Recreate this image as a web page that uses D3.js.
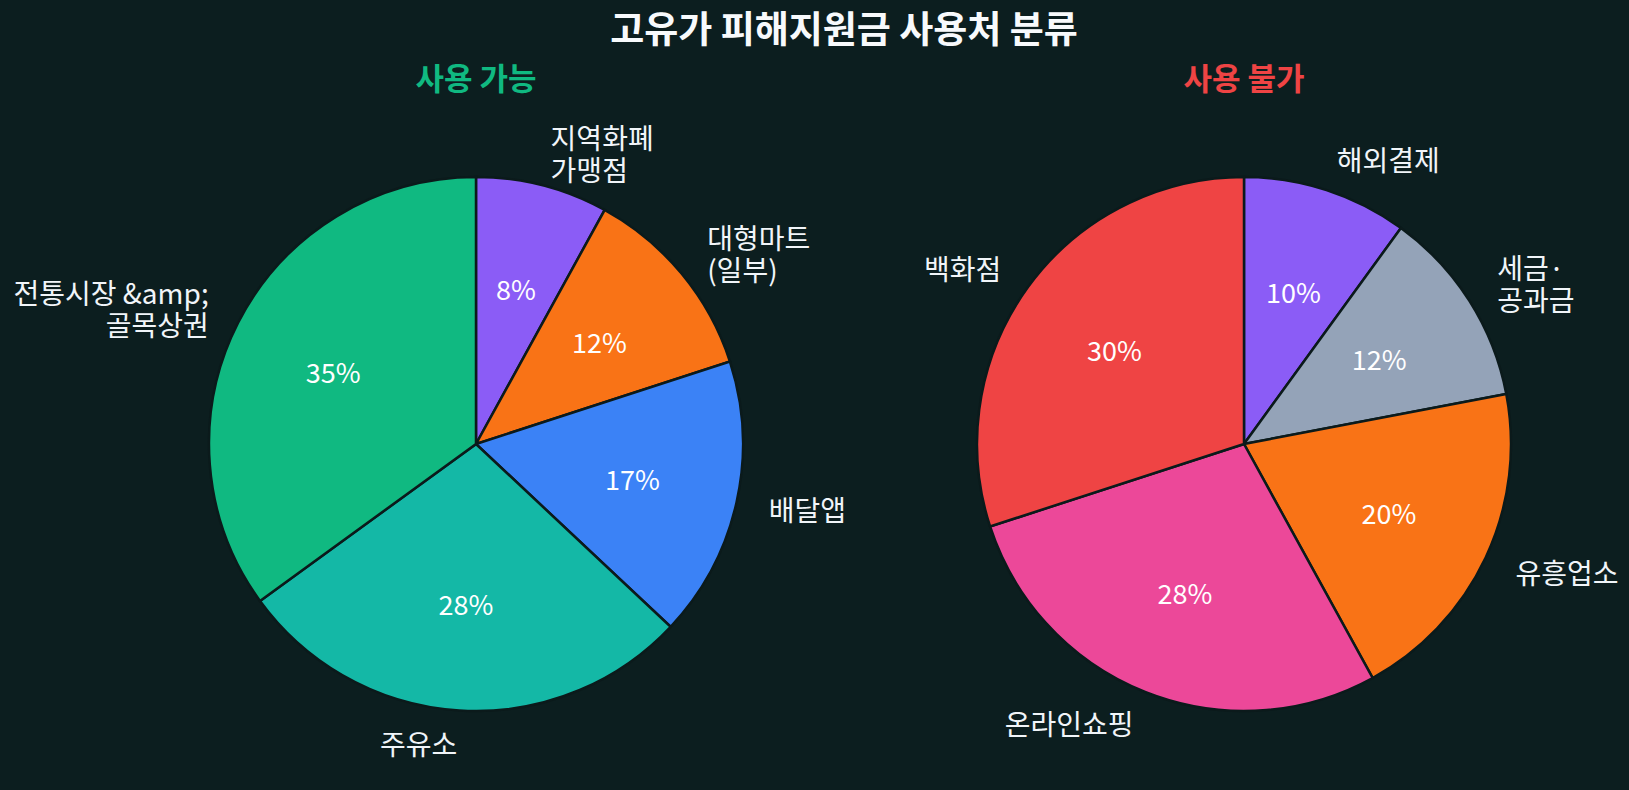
<!DOCTYPE html>
<html>
<head>
<meta charset="utf-8">
<script src="https://cdn.jsdelivr.net/npm/d3@7"></script>
<style>
  html, body { margin: 0; padding: 0; background: #0c1e1f; }
  svg { display: block; font-family: "Noto Sans CJK KR", "Noto Sans", sans-serif; }
</style>
</head>
<body>
<svg id="chart" width="1629" height="790"></svg>
<script>
var chartTitle = "고유가 피해지원금 사용처 분류";

var okTitle = "사용 가능";
var okCats = ["지역화폐\n가맹점", "대형마트\n(일부)", "배달앱", "주유소", "전통시장 &amp;\n골목상권"];
var okValues = [8, 12, 17, 28, 35];
var okColors = ["#8b5cf6", "#f97316", "#3b82f6", "#14b8a6", "#10b981"];

var noTitle = "사용 불가";
var noCats = ["해외결제", "세금·\n공과금", "유흥업소", "온라인쇼핑", "백화점"];
var noValues = [10, 12, 20, 28, 30];
var noColors = ["#8b5cf6", "#94a3b8", "#f97316", "#ec4899", "#ef4444"];

var bg = "#0c1e1f";
var svg = d3.select("#chart");

svg.append("rect").attr("width", 1629).attr("height", 790).attr("fill", bg);

svg.append("text")
  .attr("x", 844).attr("y", 27)
  .attr("text-anchor", "middle")
  .attr("dominant-baseline", "central")
  .attr("fill", "#f8fafc")
  .style("font-size", "37px").style("font-weight", "bold")
  .text(chartTitle);

var radius = 267;
var pie = d3.pie().sort(null).value(function(d) { return d.value; });
var arc = d3.arc().innerRadius(0).outerRadius(radius);
var pctArc = d3.arc().innerRadius(radius * 0.6).outerRadius(radius * 0.6);
var lblArc = d3.arc().innerRadius(300).outerRadius(300);

function drawPie(cx, title, titleColor, cats, values, colors) {
  var data = cats.map(function(c, i) { return {cat: c, value: values[i], color: colors[i]}; });
  var arcs = pie(data);

  svg.append("text")
    .attr("x", cx).attr("y", 76)
    .attr("text-anchor", "middle")
    .attr("dominant-baseline", "central")
    .attr("fill", titleColor)
    .style("font-size", "31px").style("font-weight", "bold")
    .text(title);

  var g = svg.append("g").attr("transform", "translate(" + cx + ",444)");

  g.selectAll("path")
    .data(arcs)
    .enter().append("path")
    .attr("d", arc)
    .attr("fill", function(d) { return d.data.color; })
    .attr("stroke", "#0b1a1b")
    .attr("stroke-width", 2.5);

  g.selectAll("text.pct")
    .data(arcs)
    .enter().append("text")
    .attr("class", "pct")
    .attr("transform", function(d) { return "translate(" + pctArc.centroid(d) + ")"; })
    .attr("text-anchor", "middle")
    .attr("dominant-baseline", "central")
    .attr("fill", "#ffffff")
    .style("font-size", "27px")
    .text(function(d) { return d.data.value + "%"; });

  // outside category labels, wrapped on \n
  g.selectAll("text.lbl")
    .data(arcs)
    .enter().append("text")
    .attr("class", "lbl")
    .attr("transform", function(d) { return "translate(" + lblArc.centroid(d) + ")"; })
    .attr("text-anchor", function(d) {
      return (d.startAngle + d.endAngle) / 2 < Math.PI ? "start" : "end";
    })
    .attr("fill", "#f1f5f9")
    .style("font-size", "28px")
    .each(function(d) {
      var lines = d.data.cat.split("\n");
      var lh = 32;
      var t = d3.select(this);
      lines.forEach(function(line, i) {
        t.append("tspan")
          .attr("x", 0)
          .attr("y", (i - (lines.length - 1) / 2) * lh)
          .attr("dominant-baseline", "central")
          .text(line);
      });
    });
}

drawPie(476, okTitle, "#10b981", okCats, okValues, okColors);
drawPie(1244, noTitle, "#ef4444", noCats, noValues, noColors);
</script>
</body>
</html>
